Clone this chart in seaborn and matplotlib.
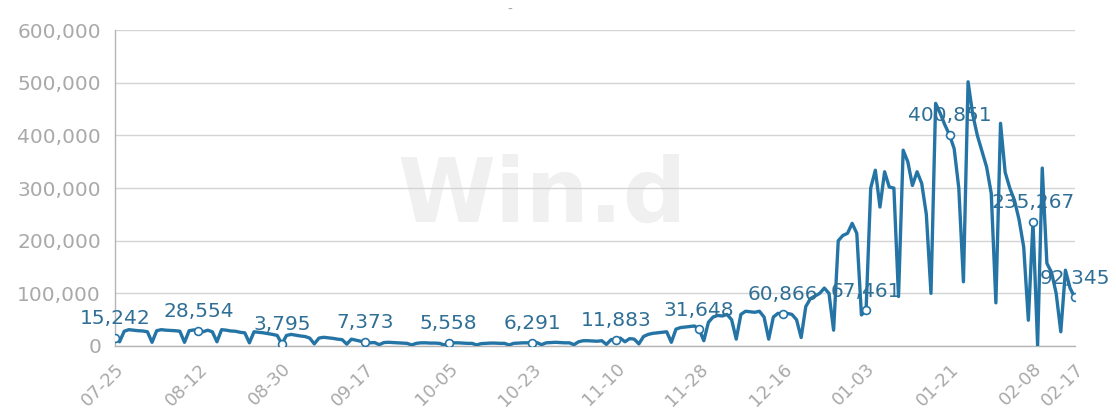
import matplotlib
matplotlib.use('Agg')
import matplotlib.pyplot as plt
import matplotlib.ticker as mticker
import seaborn as sns
import pandas as pd
import numpy as np

# 日度数据 07-25 ~ 02-17
start_date = '2019-07-25'
end_date = '2020-02-17'

values = [
    15242, 8000, 28000, 31000, 30000, 29000, 28500,
    27000, 7000, 29000, 31000, 30000, 29500, 29000,
    28000, 7000, 29000, 30500, 28554, 27000, 30000,
    27000, 8000, 31000, 30000, 28500, 28000, 26000,
    25000, 6000, 27000, 26000, 25000, 23500, 22000,
    20000, 3795, 20000, 22000, 20500, 19000, 18000,
    15000, 4000, 15000, 16500, 15500, 14500, 13000,
    12000, 3500, 13000, 11000, 9000, 7373, 6000,
    6500, 2500, 6500, 7000, 6500, 6000, 5500,
    5000, 2000, 5000, 6000, 6000, 5500, 5500,
    5000, 2000, 5558, 6000, 6000, 5500, 5000,
    5000, 2000, 4500, 5000, 5500, 5500, 5000,
    5000, 2000, 5000, 5500, 6000, 6000, 6291,
    6500, 2500, 6000, 6500, 7000, 6500, 6000,
    6000, 2500, 8000, 10000, 10000, 9500, 9000,
    10000, 3000, 12000, 11883, 15000, 8000, 14000,
    13000, 4000, 18000, 22000, 24000, 25000, 26000,
    27000, 7000, 32000, 35000, 36000, 37000, 38000,
    31648, 10000, 45000, 55000, 58000, 57000, 60000,
    50000, 13000, 60000, 66000, 65000, 64000, 66000,
    55000, 13000, 55000, 62000, 60866, 62000, 60000,
    50000, 16000, 75000, 90000, 95000, 100000, 110000,
    100000, 30000, 200000, 210000, 214000, 233000, 214000,
    59000, 67461, 300000, 334000, 264000, 331000, 302000,
    300000, 94000, 372000, 350000, 305000, 331000, 309000,
    250000, 100000, 461000, 442000, 420000, 400851, 375000,
    300000, 122000, 502000, 440000, 400000, 370000, 340000,
    290000, 82000, 423000, 330000, 300000, 277000, 240000,
    188000, 49000, 235267, 1000, 338000, 157000, 140000,
    100000, 27000, 144000, 110000, 92345,
]

tick_labels = ['07-25', '08-12', '08-30', '09-17', '10-05', '10-23', '11-10',
               '11-28', '12-16', '01-03', '01-21', '02-08', '02-17']

line_color = '#2574a6'
label_color = '#2f6f96'
grey = '#a9a9a9'

dates = pd.date_range(start_date, end_date, freq='D')
df = pd.DataFrame({'date': dates, 'value': values})
df['day'] = np.arange(len(df))
df['md'] = df['date'].dt.strftime('%m-%d')

tick_pos = [int(df.loc[df['md'] == t, 'day'].iloc[0]) for t in tick_labels]

sns.set_theme(style='white')
plt.rcParams['font.family'] = ['DejaVu Sans']

fig = plt.figure(figsize=(11.16, 4.08), dpi=100)
ax = fig.add_axes([0.103, 0.152, 0.860, 0.774])

# 水印
ax.text(0.445, 0.47, 'Win.d', transform=ax.transAxes, fontsize=64,
        fontweight='bold', color='#f0f0f0', ha='center', va='center', zorder=0)

sns.lineplot(data=df, x='day', y='value', color=line_color, lw=2.4, ax=ax, zorder=3)

lab = df[df['day'].isin(tick_pos)]
sns.scatterplot(data=lab, x='day', y='value', s=32, color='white',
                edgecolor=line_color, linewidth=1.2, zorder=5, ax=ax)

for d, v in zip(lab['day'], lab['value']):
    ax.annotate(f'{v:,}', (d, v), xytext=(0, 7), textcoords='offset points',
                ha='center', va='bottom', color=label_color, fontsize=14.5, zorder=6)

ax.set_xlim(0, len(df) - 1)
ax.set_ylim(0, 600000)
ax.yaxis.set_major_locator(mticker.MultipleLocator(100000))
ax.yaxis.set_major_formatter(mticker.FuncFormatter(lambda v, p: f'{int(v):,}'))
ax.set_xticks(tick_pos)
ax.set_xticklabels(tick_labels, rotation=45, ha='right', rotation_mode='anchor')
ax.set_xlabel('')
ax.set_ylabel('')

ax.grid(axis='y', color='#d4d4d4', lw=1)
ax.grid(axis='x', visible=False)
sns.despine(ax=ax)
for s in ['left', 'bottom']:
    ax.spines[s].set_color('#b5b5b5')
    ax.spines[s].set_linewidth(1)
ax.tick_params(axis='both', direction='out', length=7, width=1, color='#b5b5b5',
               labelcolor=grey, labelsize=14.5, pad=3)
ax.tick_params(axis='x', labelsize=13)

fig.text(0.457, 0.965, '-', color=grey, fontsize=10, ha='center')

fig.savefig('out.png', dpi=100)
